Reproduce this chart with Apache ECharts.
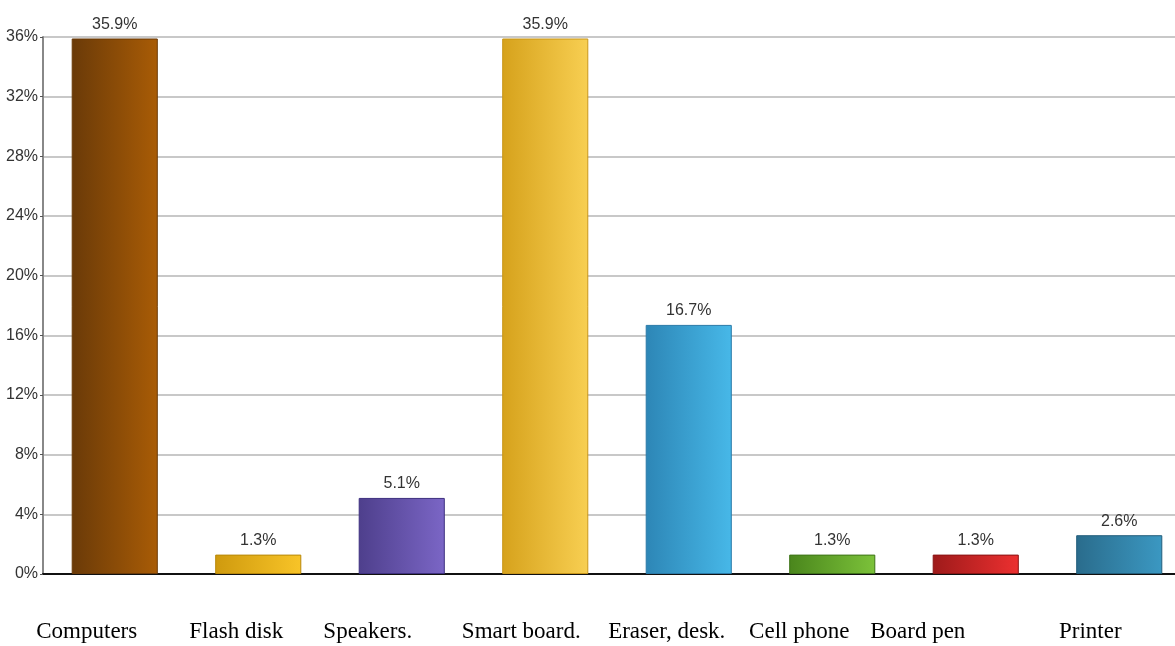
<!DOCTYPE html>
<html>
<head>
<meta charset="utf-8">
<script src="https://cdn.jsdelivr.net/npm/echarts@6/dist/echarts.min.js"></script>
<style>html,body{margin:0;padding:0;background:#fff;overflow:hidden;width:1175px;height:646px;}#c{width:1191px;height:646px;}</style>
</head>
<body>
<div id="c"></div>
<script>
var categories = ["Computers", "Flash disk", "Speakers.", "Smart board.", "Eraser, desk.", "Cell phone", "Board pen", "Printer"];
var values = [35.9, 1.3, 5.1, 35.9, 16.7, 1.3, 1.3, 2.6];
var yTicks = [0, 4, 8, 12, 16, 20, 24, 28, 32, 36];

var gradients = [
  ["#6a3a08", "#a95c06", "#6a3a08"],
  ["#cf9a0e", "#f8c428", "#b8880a"],
  ["#4e3f8c", "#7b66c6", "#3e3080"],
  ["#d6a21c", "#f8cf52", "#c8961a"],
  ["#2d86b6", "#47b8e8", "#2a7aa8"],
  ["#4a861c", "#7cc23a", "#3e7418"],
  ["#9e1a1a", "#ec3030", "#8a1414"],
  ["#2a6c8c", "#3b98c2", "#225e7c"]
];
var labelShift = [28, 22, 34, 24, 22, 33, 58, 29];

var rich = {};
labelShift.forEach(function (s, i) {
  rich['c' + i] = { fontFamily: 'Liberation Serif, Times New Roman, serif', fontSize: 23, color: '#000', padding: [0, 2 * s, 0, 0] };
});

var chart = echarts.init(document.getElementById('c'));
chart.setOption({
  animation: false,
  grid: { left: 43, right: 0, top: 37, bottom: 72, containLabel: false },
  xAxis: {
    type: 'category',
    data: categories,
    axisLine: { lineStyle: { color: '#111', width: 2 } },
    axisTick: { show: false },
    axisLabel: {
      margin: 46,
      interval: 0,
      formatter: function (v) { return '{c' + categories.indexOf(v) + '|' + v + '}'; },
      rich: rich
    }
  },
  yAxis: {
    type: 'value',
    min: 0, max: 36, interval: 4,
    axisLine: { show: true, lineStyle: { color: '#888', width: 2 } },
    axisTick: { show: true, length: 3, lineStyle: { color: '#555' } },
    splitLine: { lineStyle: { color: '#c8c8c8', width: 2 } },
    axisLabel: {
      margin: 5,
      fontFamily: 'Liberation Sans, Arial, sans-serif',
      fontSize: 16, color: '#333',
      formatter: function (v) { return yTicks.indexOf(v) >= 0 ? v + '%' : ''; }
    }
  },
  series: [{
    type: 'bar',
    barWidth: '60%',
    data: values.map(function (v, i) {
      var g = gradients[i];
      return {
        value: v,
        itemStyle: {
          color: new echarts.graphic.LinearGradient(0, 0, 1, 0, [
            { offset: 0, color: g[0] }, { offset: 1, color: g[1] }
          ]),
          borderColor: g[2], borderWidth: 1
        }
      };
    }),
    label: {
      show: true, position: 'top', distance: 6,
      fontFamily: 'Liberation Sans, Arial, sans-serif',
      fontSize: 16, color: '#333',
      formatter: function (p) { return p.value.toFixed(1) + '%'; }
    }
  }]
});
</script>
</body>
</html>
